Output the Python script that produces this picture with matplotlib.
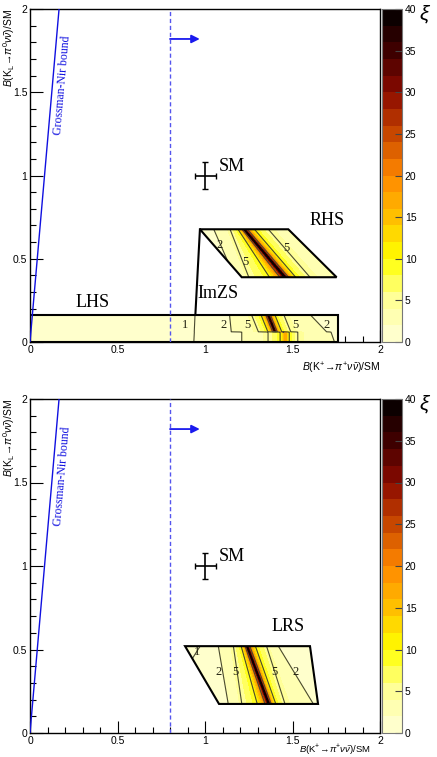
import numpy as np
import matplotlib.pyplot as plt
from matplotlib.colors import LinearSegmentedColormap
from matplotlib.patches import Polygon

# ---- chart data ----
xi_levels = np.arange(0, 42, 2)
cbar_ticks = [0, 5, 10, 15, 20, 25, 30, 35, 40]
line_levels = [1.02, 2, 5, 10, 20]
sm_x, sm_y = 1.0, 1.0
sm_xerr, sm_yerr = 0.06, 0.08
gn_x = [0.0, 0.166]
gn_y = [0.0, 2.0]
kplus_bound = 0.8
arrow_y = 1.82
arrow_end = 0.97

# region outlines
lhs_poly = [(0, 0), (1.76, 0), (1.76, 0.165), (0, 0.165)]
rhs_poly = [(0.971, 0.677), (1.476, 0.677), (1.752, 0.389), (1.21, 0.389)]
lrs_poly = [(0.886, 0.52), (1.6, 0.52), (1.646, 0.174), (1.08, 0.174)]
imzs_x = [0.945, 0.971]
imzs_y = [0.165, 0.677]

# xi: for each y knot the x of the levels
# 1, 2, 5 (left), ridge, 5, 2, 1 (right), and the ridge height
lhs_y = [0.0, 0.06, 0.061, 0.165]
lhs_x = np.array([
    [0.925, 1.21, 1.36, 1.46, 1.53, 1.74, 2.00],
    [0.928, 1.21, 1.36, 1.46, 1.53, 1.72, 2.00],
    [0.930, 1.15, 1.305, 1.40, 1.49, 1.695, 1.95],
    [0.935, 1.14, 1.265, 1.36, 1.45, 1.60, 1.90],
])
lhs_peak = [18, 18, 40, 40]

rhs_y = [0.389, 0.677]
rhs_x = np.array([
    [1.05, 1.17, 1.25, 1.457, 1.60, 1.85, 2.10],
    [0.93, 1.05, 1.143, 1.223, 1.362, 1.55, 1.80],
])
rhs_peak = [40, 40]

lrs_y = [0.174, 0.52]
lrs_x = np.array([
    [0.75, 1.133, 1.21, 1.365, 1.457, 1.619, 1.90],
    [0.968, 1.076, 1.162, 1.24, 1.352, 1.419, 1.60],
])
lrs_peak = [40, 40]

# contour label texts
top_labels = [("1", 0.886, 0.10), ("2", 1.105, 0.10), ("5", 1.242, 0.10),
              ("5", 1.514, 0.10), ("2", 1.695, 0.10),
              ("2", 1.086, 0.583), ("5", 1.229, 0.482), ("5", 1.467, 0.563)]
bot_labels = [("1", 0.952, 0.485), ("2", 1.076, 0.367), ("5", 1.171, 0.367),
              ("5", 1.394, 0.367), ("2", 1.52, 0.367)]

cmap = LinearSegmentedColormap.from_list("xi", [
    (0.0, "#ffffd8"), (0.125, "#ffff99"), (0.25, "#ffff00"), (0.375, "#ffc000"),
    (0.5, "#ff8800"), (0.625, "#c84800"), (0.75, "#8b0a00"), (0.875, "#400000"),
    (1.0, "#000000")])

serif = ["Liberation Serif", "DejaVu Serif"]
sans = ["Liberation Sans", "DejaVu Sans"]
plt.rcParams["font.family"] = sans
plt.rcParams["mathtext.fontset"] = "custom"
plt.rcParams["mathtext.rm"] = "Liberation Sans"
plt.rcParams["mathtext.it"] = "Liberation Sans:italic"


def xi_field(yk, rows, peaks, bbox):
    xs = np.linspace(bbox[0], bbox[1], 500)
    ys = np.linspace(bbox[2], bbox[3], 160)
    X, Y = np.meshgrid(xs, ys)
    Z = np.ones_like(X)
    for j, y in enumerate(ys):
        pos = [np.interp(y, yk, rows[:, k]) for k in range(7)]
        pk = np.interp(y, yk, peaks)
        inv = [1.0, 0.5, 0.2, 1.0 / pk, 0.2, 0.5, 1.0]
        Z[j] = 1.0 / np.interp(xs, pos, inv)
    return X, Y, np.clip(Z, 0, 39.99)


def draw_region(ax, poly, yk, rows, peaks):
    pts = np.array(poly)
    bbox = (pts[:, 0].min(), pts[:, 0].max(), pts[:, 1].min(), pts[:, 1].max())
    X, Y, Z = xi_field(yk, rows, peaks, bbox)
    patch = Polygon(poly, closed=True, facecolor="none", edgecolor="black",
                    lw=1.5, zorder=4)
    ax.add_patch(patch)
    cf = ax.contourf(X, Y, Z, levels=xi_levels, cmap=cmap, vmin=0, vmax=40, zorder=2)
    cf.set_clip_path(patch)
    cl = ax.contour(X, Y, Z, levels=line_levels, colors="#4a4a30", linewidths=0.8,
                    zorder=3)
    cl.set_clip_path(patch)
    return cf


def setup(ax, xlab_x, xlab_y, xlab_size):
    ax.set_xlim(0, 2)
    ax.set_ylim(0, 2)
    ax.set_xticks([0, 0.5, 1, 1.5, 2])
    ax.set_xticklabels(["0", "0.5", "1", "1.5", "2"])
    ax.set_yticks([0, 0.5, 1, 1.5, 2])
    ax.set_yticklabels(["0", "0.5", "1", "1.5", "2"])
    ax.set_xticks(np.arange(0, 2.01, 0.1), minor=True)
    ax.set_yticks(np.arange(0, 2.01, 0.1), minor=True)
    ax.tick_params(which="both", direction="in", labelsize=7.5, pad=2)
    ax.tick_params(which="major", length=9, width=0.8)
    ax.tick_params(which="minor", length=4.5, width=0.8)
    for s in ax.spines.values():
        s.set_linewidth(1.0)
    ax.plot(gn_x, gn_y, color="#1010e0", lw=1.0, zorder=5)
    ax.text(0.182, 1.54, "Grossman-Nir bound", color="#1010e0", fontsize=8.5,
            family=serif, rotation=85, ha="center", va="center")
    ax.axvline(kplus_bound, color="#5555ee", lw=1.0, ls=(0, (3, 2)), zorder=5)
    ax.annotate("", xy=(arrow_end, arrow_y), xytext=(kplus_bound, arrow_y),
                arrowprops=dict(arrowstyle="-|>", color="#1a1aee", lw=1.3,
                                mutation_scale=12, shrinkA=0, shrinkB=0))
    ax.errorbar([sm_x], [sm_y], xerr=[sm_xerr], yerr=[sm_yerr], fmt="none",
                ecolor="black", elinewidth=1.2, capsize=2.5, capthick=1.0, zorder=6)
    ax.text(1.155, 1.057, "SM", family=serif, fontsize=13, ha="center", va="center")
    ax.text(xlab_x, xlab_y, r"$\mathit{B}$(K$^{+}\!\rightarrow\!\pi^{+}\nu\bar{\nu}$)/SM",
            transform=ax.transAxes, ha="right", va="center", fontsize=xlab_size)
    ax.text(-0.06, 1.0, r"$\mathit{B}$(K$_{\mathrm{L}}\!\rightarrow\!\pi^{0}\nu\bar{\nu}$)/SM",
            transform=ax.transAxes, rotation=90, ha="center", va="top", fontsize=7.5)


def add_cbar(fig, cf, bottom, height):
    cax = fig.add_axes([382 / 437, bottom, 20 / 437, height])
    cb = fig.colorbar(cf, cax=cax, ticks=cbar_ticks)
    cb.outline.set_edgecolor("#777777")
    cb.outline.set_linewidth(0.8)
    cax.tick_params(direction="in", length=5, width=0.8, labelsize=7.5, pad=2,
                    color="#444444")
    cax.text(2.15, 0.985, r"$\xi$", transform=cax.transAxes, fontsize=15,
             family=serif, ha="center", va="center")


fig = plt.figure(figsize=(4.37, 7.57), dpi=100)

ax1 = fig.add_axes([30 / 437, (757 - 342) / 757, 350 / 437, 333 / 757])
setup(ax1, 1.0, -0.078, 7.5)
cf = draw_region(ax1, lhs_poly, lhs_y, lhs_x, lhs_peak)
draw_region(ax1, rhs_poly, rhs_y, rhs_x, rhs_peak)
ax1.plot(imzs_x, imzs_y, color="black", lw=1.5, zorder=4)
for t, x, y in top_labels:
    ax1.text(x, y, t, family=serif, fontsize=9, color="#222211",
             ha="center", va="center", zorder=7)
ax1.text(0.357, 0.24, "LHS", family=serif, fontsize=13, ha="center", va="center")
ax1.text(1.075, 0.294, "ImZS", family=serif, fontsize=13, ha="center", va="center")
ax1.text(1.70, 0.727, "RHS", family=serif, fontsize=13, ha="center", va="center")
add_cbar(fig, cf, (757 - 342) / 757, 333 / 757)

ax2 = fig.add_axes([30 / 437, (757 - 733) / 757, 350 / 437, 334 / 757])
setup(ax2, 0.975, -0.051, 6.8)
cf2 = draw_region(ax2, lrs_poly, lrs_y, lrs_x, lrs_peak)
for t, x, y in bot_labels:
    ax2.text(x, y, t, family=serif, fontsize=9, color="#222211",
             ha="center", va="center", zorder=7)
ax2.text(1.476, 0.64, "LRS", family=serif, fontsize=13, ha="center", va="center")
add_cbar(fig, cf2, (757 - 733) / 757, 334 / 757)

fig.savefig("out.png", dpi=100)
